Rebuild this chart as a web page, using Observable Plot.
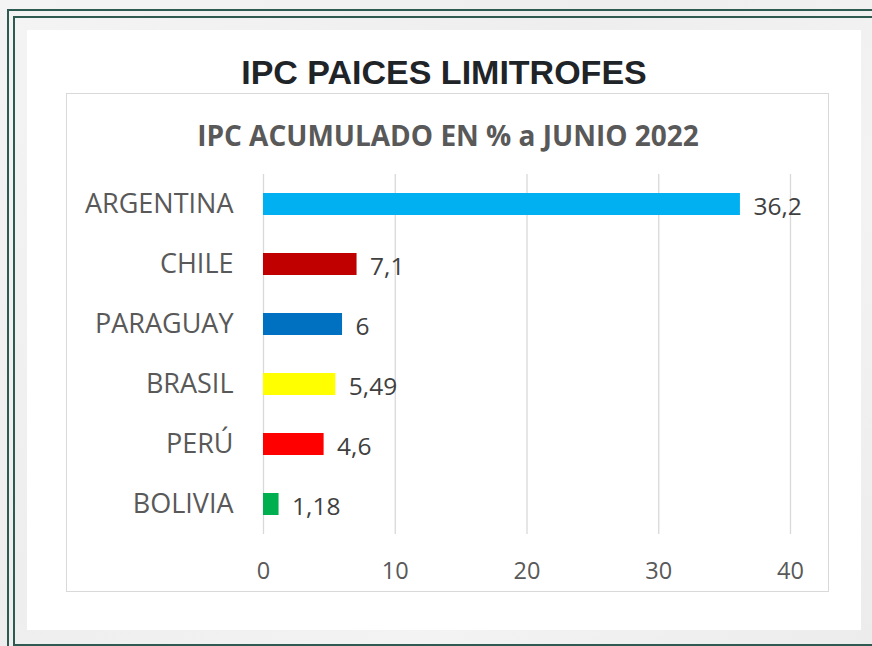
<!DOCTYPE html>
<html>
<head>
<meta charset="utf-8">
<script src="https://cdn.jsdelivr.net/npm/d3@7"></script>
<script src="https://cdn.jsdelivr.net/npm/@observablehq/plot@0.6"></script>
<style>
  html, body { margin: 0; padding: 0; }
  body {
    width: 872px; height: 646px; position: relative; overflow: hidden;
    background: linear-gradient(135deg, #f4f4f4 0%, #eeeeee 40%, #f3f3f3 70%, #ececec 100%);
    font-family: "Open Sans", sans-serif;
  }
  .line { position: absolute; background: #2e5a52; }
  #panel { position: absolute; left: 27px; top: 30px; width: 834px; height: 600px; background: #ffffff; }
  #title {
    position: absolute; left: 27px; width: 834px; top: 50px; text-align: center;
    font-family: "Liberation Sans", Arial, sans-serif; font-weight: bold; font-size: 34px;
    color: #1f2428; line-height: 44px;
  }
  #box {
    position: absolute; left: 66px; top: 93px; width: 761px; height: 497px;
    border: 1.5px solid #d9d9d9;
  }
  #subtitle {
    position: absolute; left: 66px; width: 764px; top: 115px; text-align: center;
    font-family: "Open Sans", sans-serif; font-weight: bold; font-size: 28px;
    color: #595959; line-height: 40px;
  }
  #chart { position: absolute; left: 66px; top: 160px; }
</style>
</head>
<body>
<div class="line" style="left:7px;top:9px;width:2px;height:640px"></div>
<div class="line" style="left:13px;top:16px;width:2px;height:640px"></div>
<div class="line" style="left:7px;top:9px;width:870px;height:2px"></div>
<div class="line" style="left:13px;top:16px;width:870px;height:2px"></div>
<div class="line" style="left:13px;top:644px;width:870px;height:2px"></div>
<div id="panel"></div>
<div id="title">IPC PAICES LIMITROFES</div>
<div id="box"></div>
<div id="subtitle">IPC ACUMULADO EN % a JUNIO 2022</div>
<div id="chart"></div>
<script>
const countries = ["ARGENTINA", "CHILE", "PARAGUAY", "BRASIL", "PERÚ", "BOLIVIA"];
const values = [36.2, 7.1, 6, 5.49, 4.6, 1.18];
const labels = ["36,2", "7,1", "6", "5,49", "4,6", "1,18"];
const colors = ["#00b0f0", "#c00000", "#0070c0", "#ffff00", "#ff0000", "#00b050"];
const xTicks = [0, 10, 20, 30, 40];

const data = countries.map((c, i) => ({country: c, value: values[i], label: labels[i], color: colors[i]}));

const chart = Plot.plot({
  width: 763,
  height: 430,
  marginLeft: 197,
  marginRight: 39,
  marginTop: 14,
  marginBottom: 56,
  style: {background: "transparent", fontFamily: "Open Sans, sans-serif", overflow: "visible"},
  x: {domain: [0, 40], ticks: xTicks},
  y: {domain: countries, padding: 0.63, paddingOuter: 0.315},
  marks: [
    Plot.gridX(xTicks, {stroke: "#d9d9d9", strokeOpacity: 1, strokeWidth: 1.3}),
    Plot.barX(data, {y: "country", x: "value", fill: "color"}),
    Plot.text(data, {y: "country", x: "value", text: "label", textAnchor: "start", dx: 13, dy: 3,
      fill: "#404040", fontSize: 24.5}),
    Plot.axisX({ticks: xTicks, tickSize: 0, tickPadding: 28, fontSize: 23.5, color: "#595959",
      tickFormat: d => String(d), label: null}),
    Plot.axisY({tickSize: 0, tickPadding: 30, fontSize: 27, color: "#595959", label: null})
  ]
});
document.getElementById("chart").appendChild(chart);
</script>
</body>
</html>
